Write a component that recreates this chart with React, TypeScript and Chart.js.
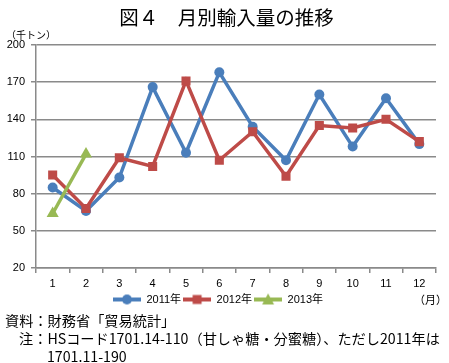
import React, { useEffect, useRef } from 'react';
import { Chart, registerables } from 'chart.js';

Chart.register(...registerables);

const months = ['1', '2', '3', '4', '5', '6', '7', '8', '9', '10', '11', '12'];
const values2011 = [85, 66, 93, 166, 113, 178, 134, 107, 160, 118, 157, 120];
const values2012 = [95, 68, 109, 102, 171, 107, 130, 94, 135, 133, 140, 122];
const values2013 = [64, 112];
const seriesNames = ['2011年', '2012年', '2013年'];
const seriesColors = ['#4A7EBB', '#BE4B48', '#98B954'];
const seriesMarkers = ['circle', 'rect', 'triangle'];
const yMin = 20;
const yMax = 200;
const yStep = 30;

const FONT = '"Liberation Sans", "Noto Sans CJK JP", sans-serif';
const JFONT = '"Noto Sans CJK JP", "Liberation Sans", sans-serif';
const GRID = '#8a8a8a';

function makeIcon(color: string, marker: string) {
  const c = document.createElement('canvas');
  c.width = 28;
  c.height = 14;
  const ctx = c.getContext('2d')!;
  ctx.strokeStyle = color;
  ctx.fillStyle = color;
  ctx.lineWidth = 4;
  ctx.beginPath();
  ctx.moveTo(0, 7);
  ctx.lineTo(28, 7);
  ctx.stroke();
  ctx.beginPath();
  if (marker === 'circle') {
    ctx.arc(14, 7, 5, 0, Math.PI * 2);
  } else if (marker === 'rect') {
    ctx.rect(9.5, 2.5, 9, 9);
  } else {
    ctx.moveTo(14, 1);
    ctx.lineTo(20, 12);
    ctx.lineTo(8, 12);
    ctx.closePath();
  }
  ctx.fill();
  return c;
}

export default function App() {
  const ref = useRef<HTMLCanvasElement>(null);

  useEffect(() => {
    const icons = seriesColors.map((c, i) => makeIcon(c, seriesMarkers[i]));
    const allValues = [values2011, values2012, values2013];
    const radii = [5, 6.4, 7];
    const chart = new Chart(ref.current!, {
      type: 'line',
      data: {
        labels: months,
        datasets: allValues.map((vals, i) => ({
          label: seriesNames[i],
          data: vals,
          borderColor: seriesColors[i],
          backgroundColor: seriesColors[i],
          pointBackgroundColor: seriesColors[i],
          pointBorderColor: seriesColors[i],
          pointStyle: seriesMarkers[i] as any,
          pointRadius: radii[i],
          pointBorderWidth: 0,
          borderWidth: 3.5,
          tension: 0,
          order: 2 - i,
        })),
      },
      options: {
        animation: false,
        responsive: false,
        devicePixelRatio: 1,
        layout: { padding: { left: 0, right: 13, top: 45, bottom: 48 } },
        plugins: {
          title: { display: false },
          tooltip: { enabled: false },
          legend: {
            position: 'bottom',
            labels: {
              usePointStyle: true,
              pointStyleWidth: 28,
              padding: 2,
              color: '#000',
              font: { family: FONT, size: 11 },
              sort: (a: any, b: any) => a.datasetIndex - b.datasetIndex,
              generateLabels: (ch: any) => {
                const items = Chart.defaults.plugins.legend.labels.generateLabels(ch);
                return items.map((it: any) => ({ ...it, pointStyle: icons[it.datasetIndex] }));
              },
            },
          },
        },
        scales: {
          x: {
            type: 'category',
            offset: true,
            afterFit: (s: any) => { s.height = 24; },
            grid: { offset: true, drawOnChartArea: false, drawTicks: true, tickLength: 5, color: GRID, lineWidth: 1.5 },
            border: { color: GRID, width: 1.5 },
            ticks: { color: '#000', padding: 4, font: { family: FONT, size: 11 }, maxRotation: 0 },
          },
          y: {
            min: yMin,
            max: yMax,
            afterFit: (s: any) => { s.width = 36; },
            ticks: { stepSize: yStep, color: '#000', padding: 6, font: { family: FONT, size: 11 } },
            grid: { color: GRID, lineWidth: 1.5, tickLength: 5 },
            border: { color: GRID, width: 1.5 },
          },
        },
      },
    });
    return () => chart.destroy();
  }, []);

  return (
    <div style={{ position: 'absolute', left: 0, top: 0, width: 449, height: 363, background: '#fff', overflow: 'hidden' }}>
      <canvas ref={ref} width={449} height={363} style={{ position: 'absolute', left: 0, top: 0 }} />
      <div style={{ position: 'absolute', left: 0, top: 5, width: 449, textAlign: 'center', fontFamily: JFONT, fontSize: 19.5, lineHeight: '24px', color: '#000', paddingLeft: 4, boxSizing: 'border-box' }}>
        図４　月別輸入量の推移
      </div>
      <div style={{ position: 'absolute', left: 6, top: 28, fontFamily: JFONT, fontSize: 10, lineHeight: '14px', color: '#000', whiteSpace: 'nowrap' }}>
        （千トン）
      </div>
      <div style={{ position: 'absolute', left: 414, top: 292, fontFamily: JFONT, fontSize: 11, lineHeight: '15px', color: '#000', whiteSpace: 'nowrap' }}>
        （月）
      </div>
      <div style={{ position: 'absolute', left: 5, top: 311, fontFamily: JFONT, fontSize: 14.2, lineHeight: '18px', color: '#000', whiteSpace: 'nowrap' }}>
        <div>資料：財務省「貿易統計」</div>
        <div style={{ paddingLeft: 14 }}>注：HSコード1701.14-110（甘しゃ糖・分蜜糖）、ただし2011年は</div>
        <div style={{ paddingLeft: 42 }}>1701.11-190</div>
      </div>
    </div>
  );
}
